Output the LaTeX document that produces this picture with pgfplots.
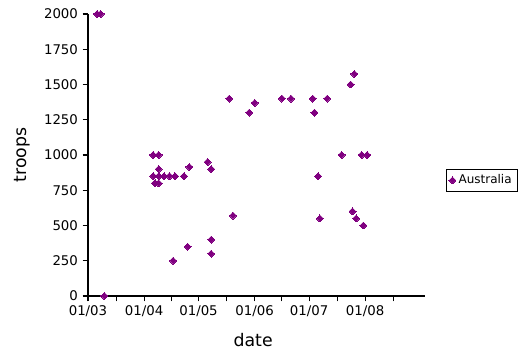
\documentclass[border=0pt]{standalone}
\usepackage{fontspec}
\setmainfont{DejaVu Sans}
\usepackage{pgfplots}
\pgfplotsset{compat=1.18}
\definecolor{pts}{RGB}{128,0,128}
\begin{document}
\begin{tikzpicture}
\begin{axis}[
  scale only axis,
  width=252.75pt, height=211.5pt,
  xmin=0, xmax=186, ymin=0, ymax=2000,
  axis lines=left,
  axis line style={-, black, line width=0.8pt},
  clip=false,
  xtick={0,31,61,92,122,153},
  xticklabels={01/03,01/04,01/05,01/06,01/07,01/08},
  minor xtick={15.5,46,76.5,107,137.5,168.5},
  ytick={0,250,500,750,1000,1250,1500,1750,2000},
  tick align=outside,
  major tick length=4pt, minor tick length=4pt,
  tick style={black, line width=0.8pt},
  /pgf/number format/assume math mode=true,
  /pgf/number format/1000 sep={},
  tick label style={font=\fontsize{10}{12}\selectfont},
  xlabel={date}, ylabel={troops},
  label style={font=\fontsize{13}{15}\selectfont},
  x label style={at={(axis description cs:0.49,-0.156)}, anchor=center},
  y label style={at={(axis description cs:-0.196,0.5)}, anchor=center, rotate=0},
  legend style={at={(axis description cs:1.062,0.41)}, anchor=west,
    font=\fontsize{9}{11}\selectfont, draw=black, line width=0.6pt,
    inner sep=2pt},
  legend cell align=left,
]
\coordinate (bl) at (rel axis cs:0,0);
\coordinate (tr) at (rel axis cs:1,1);
\addplot[only marks, mark=square*, mark size=1.85pt, color=pts,
  mark options={rotate=45, line width=0pt}] coordinates {
(5,2000)(7,2000)(9,0)
(36,1000)(39,1000)(39,900)
(36,850)(39,850)(42,850)(45,850)(48,850)(53,850)
(37,800)(39,800)
(47,250)(55,350)(56,915)(66,950)(68,900)(68,400)(68,300)
(78,1400)(80,570)(89,1300)(92,1370)(107,1400)(112,1400)
(124,1400)(125,1300)(127,850)(128,550)(132,1400)
(140,1000)(145,1500)(146,600)(147,1575)(148,550)
(151,1000)(152,500)(154,1000)
};
\addlegendentry{Australia}
\end{axis}
\pgfresetboundingbox
\path ([shift={(-66pt,-47.25pt)}]bl) rectangle ([shift={(80.25pt,10.5pt)}]tr);
\end{tikzpicture}
\end{document}
